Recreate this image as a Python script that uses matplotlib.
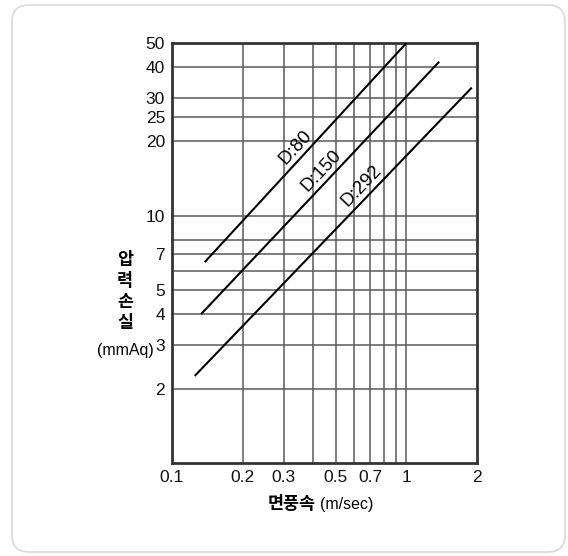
import numpy as np
import matplotlib
matplotlib.use("Agg")
import matplotlib.pyplot as plt
from matplotlib.patches import FancyBboxPatch

plt.rcParams['font.family'] = ['Liberation Sans', 'Noto Sans CJK KR', 'DejaVu Sans']

# Pressure-loss curves (velocity m/sec -> loss mmAq), end points of each line
series_names = ["D:80", "D:150", "D:292"]
velocity = [[0.138, 1.0], [0.133, 1.38], [0.125, 1.9]]
pressure_loss = [[6.5, 50.0], [4.0, 42.0], [2.25, 33.0]]
label_at_velocity = [0.365, 0.47, 0.70]

x_ticks = [0.1, 0.2, 0.3, 0.5, 0.7, 1, 2]
x_tick_labels = ["0.1", "0.2", "0.3", "0.5", "0.7", "1", "2"]
x_grid = [0.2, 0.3, 0.4, 0.5, 0.6, 0.7, 0.8, 0.9, 1.0]
y_ticks = [2, 3, 4, 5, 7, 10, 20, 25, 30, 40, 50]
y_grid = [2, 3, 4, 5, 6, 7, 8, 10, 20, 25, 30, 40, 50]

KO = ['Noto Sans CJK KR', 'DejaVu Sans']

fig = plt.figure(figsize=(5.68, 5.56), dpi=100)
fig.patch.set_facecolor("white")

# rounded card outline
card = FancyBboxPatch((12 / 568, 4 / 556), 553 / 568, 547 / 556,
                      boxstyle="round,pad=0,rounding_size=0.03",
                      transform=fig.transFigure, fill=False,
                      edgecolor="#d9d9d9", linewidth=1.2, zorder=-1)
fig.patches.append(card)

ax = fig.add_axes([172 / 568, 1 - 463 / 556, 305 / 568, 420 / 556])
ax.set_xscale("log")
ax.set_yscale("log")
ax.set_xlim(0.1, 2)
ax.set_ylim(1, 50)

for gx in x_grid:
    ax.axvline(gx, color="#5a5a5a", lw=1.1, zorder=1)
for gy in y_grid:
    ax.axhline(gy, color="#5a5a5a", lw=1.1, zorder=1)

for xs, ys in zip(velocity, pressure_loss):
    ax.plot(xs, ys, color="black", lw=1.5, zorder=3, solid_capstyle="butt")

ax.set_xticks(x_ticks)
ax.set_xticklabels(x_tick_labels)
ax.set_yticks(y_ticks)
ax.set_yticklabels([str(v) for v in y_ticks])
ax.xaxis.set_minor_locator(matplotlib.ticker.NullLocator())
ax.yaxis.set_minor_locator(matplotlib.ticker.NullLocator())
ax.tick_params(length=0, labelsize=12.5, colors="#111111")
ax.tick_params(axis="x", pad=5)
ax.tick_params(axis="y", pad=5)
for s in ax.spines.values():
    s.set_color("#333333")
    s.set_linewidth(2.0)

# rotated labels that sit just above each line
for name, xs, ys, lx in zip(series_names, velocity, pressure_loss, label_at_velocity):
    lxs, lys = np.log10(xs), np.log10(ys)
    slope = (lys[1] - lys[0]) / (lxs[1] - lxs[0])
    ly = 10 ** (lys[0] + slope * (np.log10(lx) - lxs[0]))
    p0 = ax.transData.transform((xs[0], ys[0]))
    p1 = ax.transData.transform((xs[1], ys[1]))
    ang = np.degrees(np.arctan2(p1[1] - p0[1], p1[0] - p0[0]))
    nx, ny = -np.sin(np.radians(ang)), np.cos(np.radians(ang))
    ax.annotate(name, xy=(lx, ly), xytext=(nx * 8, ny * 8),
                textcoords="offset points", rotation=ang,
                rotation_mode="anchor", ha="center", va="center",
                fontsize=13.5, zorder=4)

# stacked y-axis title
for i, ch in enumerate(["압", "력", "손", "실"]):
    fig.text(125 / 568, 1 - (260 + 21 * i) / 556, ch, ha="center", va="center",
             fontsize=12.5, fontweight="bold", family=KO)
fig.text(125 / 568, 1 - 350 / 556, "(mmAq)", ha="center", va="center", fontsize=11.5)

fig.text(316 / 568, 1 - 504 / 556, "면풍속", ha="right", va="center",
         fontsize=12.5, fontweight="bold", family=KO)
fig.text(320 / 568, 1 - 504 / 556, "(m/sec)", ha="left", va="center", fontsize=11.5)

fig.savefig("out.png", dpi=100)
